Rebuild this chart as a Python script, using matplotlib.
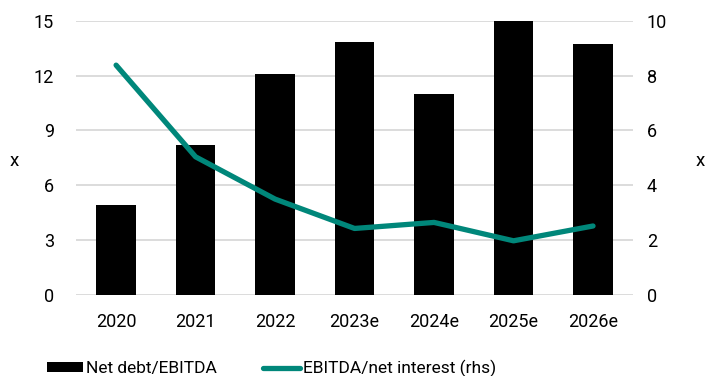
import matplotlib.pyplot as plt
import numpy as np

plt.rcParams['font.family'] = ['Roboto', 'DejaVu Sans']

years = ['2020', '2021', '2022', '2023e', '2024e', '2025e', '2026e']
net_debt_ebitda = [4.95, 8.2, 12.08, 13.82, 10.97, 15.0, 13.75]
ebitda_interest = [8.38, 5.04, 3.5, 2.43, 2.65, 1.98, 2.52]

teal = '#00877A'
grid_col = '#d9d9d9'

fig, ax = plt.subplots(figsize=(7.07, 3.76), dpi=100)
fig.subplots_adjust(left=0.108, right=0.895, top=0.945, bottom=0.215)

x = np.arange(len(years))
ax.bar(x, net_debt_ebitda, width=0.5, color='black', label='Net debt/EBITDA', zorder=2)
ax.set_ylim(0, 15)
ax.set_yticks(range(0, 16, 3))
ax.set_xlim(-0.5, len(years) - 0.5)
ax.set_xticks(x)
ax.set_xticklabels(years)
ax.yaxis.grid(True, color=grid_col, linewidth=1.3, zorder=0)
ax.set_axisbelow(True)

ax2 = ax.twinx()
ax2.plot(x, ebitda_interest, color=teal, linewidth=3.8, solid_capstyle='round',
         label='EBITDA/net interest (rhs)', zorder=3)
ax2.set_ylim(0, 10)
ax2.set_yticks(range(0, 11, 2))

for a in (ax, ax2):
    for s in a.spines.values():
        s.set_visible(False)
    a.tick_params(length=0, labelsize=13)
ax.tick_params(axis='y', pad=16)
ax2.tick_params(axis='y', pad=10)
ax.tick_params(axis='x', pad=13)

# axis unit labels on both sides
fig.text(14 / 707, 1 - 161 / 376, 'x', fontsize=13.5, ha='center', va='center')
fig.text(700 / 707, 1 - 161 / 376, 'x', fontsize=13.5, ha='center', va='center')

h1, l1 = ax.get_legend_handles_labels()
h2, l2 = ax2.get_legend_handles_labels()
fig.legend(h1 + h2, l1 + l2, loc='center left', bbox_to_anchor=(0.066, 0.02), ncol=2,
           frameon=False, fontsize=12.5, handlelength=2.1, handleheight=0.45,
           handletextpad=0.15, columnspacing=2.7, borderpad=0, borderaxespad=0)

fig.savefig('out.png', dpi=100)
